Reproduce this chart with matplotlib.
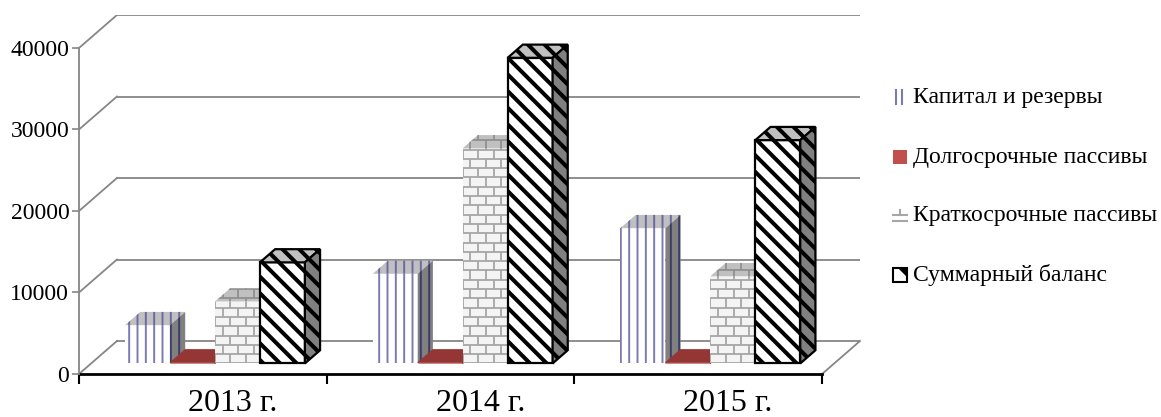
import matplotlib.pyplot as plt
from matplotlib.patches import Polygon, Rectangle
from matplotlib.collections import LineCollection

# данные (тыс. руб.)
years = ['2013 г.', '2014 г.', '2015 г.']
series = ['Капитал и резервы', 'Долгосрочные пассивы',
          'Краткосрочные пассивы', 'Суммарный баланс']
kapital = [4700, 11000, 16600]
dolgo = [100, 100, 100]
kratko = [7600, 26400, 10700]
summa = [12400, 37500, 27400]
yticks = [0, 10000, 20000, 30000, 40000]

plt.rcParams['font.family'] = ['Liberation Serif', 'DejaVu Serif']

# псевдо-3D геометрия
DX = 0.1532      # глубина по x (в долях категории)
DY = 4049        # глубина по y (в единицах значений)
D0, D1 = 0.32, 0.72
GAP = 0.137
W = 0.1815
GRID = '#868686'

W_PX, H_PX = 1161, 417
fig = plt.figure(figsize=(W_PX / 100, H_PX / 100), dpi=100)
ax = fig.add_axes([79 / W_PX, 1 - 374 / H_PX, 781 / W_PX, 359 / H_PX])
ax.set_xlim(0, 3 + DX)
ax.set_ylim(0, 40000 + DY)
for s in ['top', 'right', 'bottom']:
    ax.spines[s].set_visible(False)
ax.spines['left'].set_bounds(0, 40000)
ax.spines['left'].set_color(GRID)
ax.spines['left'].set_linewidth(1.3)
ax.set_yticks(yticks)
ax.set_yticklabels([str(v) for v in yticks], fontsize=17)
ax.tick_params(axis='y', length=5, width=1.2, color=GRID, pad=2)
ax.set_xticks([0, 1, 2, 3])
ax.set_xticklabels([])
ax.tick_params(axis='x', which='major', length=7, width=1.5, color='black')
ax.set_xticks([i + 0.62 for i in range(3)], minor=True)
ax.set_xticklabels(years, minor=True, fontsize=23)
ax.tick_params(axis='x', which='minor', length=0, pad=10.5)

# задняя стенка и боковая стенка
for v in yticks:
    ax.plot([DX, 3 + DX], [v + DY, v + DY], color=GRID, lw=1.3, zorder=1)
    ax.plot([0, DX], [v, v + DY], color=GRID, lw=1.3, zorder=1)
ax.plot([3, 3 + DX], [0, DY], color=GRID, lw=1.3, zorder=1, clip_on=False)
ax.plot([0, 3], [0, 0], color='black', lw=2, zorder=2, clip_on=False)


def add_patch(p, hatch_lw=None):
    if hatch_lw is not None:
        if hasattr(p, 'set_hatch_linewidth'):
            p.set_hatch_linewidth(hatch_lw)
    ax.add_patch(p)
    return p


def make_poly(pts, fc, ec, lw, hatch, hatch_lw, z):
    with plt.rc_context({'hatch.linewidth': hatch_lw or 1.0}):
        p = Polygon(pts, closed=True, facecolor=fc, edgecolor=ec, lw=lw,
                    hatch=hatch, zorder=z, joinstyle='miter')
    return add_patch(p, hatch_lw)


def bricks(patch, x0, x1, y0, y1, color, z):
    rh = 1141
    bw = 0.0625
    segs = []
    y = y0
    k = 0
    while y < y1 + rh:
        segs.append([(x0 - bw, y), (x1 + bw, y)])
        off = (k % 2) * bw / 2
        x = x0 - bw + off
        while x < x1 + bw:
            segs.append([(x, y), (x, y + rh)])
            x += bw
        y += rh
        k += 1
    lc = LineCollection(segs, colors=color, linewidths=1.3, zorder=z)
    ax.add_collection(lc)
    lc.set_clip_path(patch)


def box(cat, j, h, style, z):
    xl = cat + GAP + j * W + D0 * DX
    xr = xl + W
    yb = D0 * DY
    yt = yb + h
    tx, ty = (D1 - D0) * DX, (D1 - D0) * DY
    front = [(xl, yb), (xr, yb), (xr, yt), (xl, yt)]
    top = [(xl, yt), (xr, yt), (xr + tx, yt + ty), (xl + tx, yt + ty)]
    side = [(xr, yb), (xr + tx, yb + ty), (xr + tx, yt + ty), (xr, yt)]
    if style == 'kap':
        make_poly(front, 'white', '#7b7bb2', 0, '||', 1.4, z)
        make_poly(top, '#c0c0c0', '#6a6aa4', 0, '||', 1.4, z)
        make_poly(side, '#808080', '#3c3c66', 0, '||', 1.4, z)
    elif style == 'dolg':
        make_poly(front, '#c0504d', '#c0504d', 0.5, None, None, z)
        make_poly(top, '#943634', '#943634', 0.5, None, None, z)
        make_poly(side, '#7a2b2a', '#7a2b2a', 0.5, None, None, z)
    elif style == 'krat':
        p = make_poly(front, '#f4f4f4', 'none', 0, None, None, z)
        bricks(p, xl, xr + tx, yb, yt + ty, '#a6a6a6', z + 0.1)
        p = make_poly(top, '#c0c0c0', 'none', 0, None, None, z + 0.2)
        bricks(p, xl, xr + tx, yb, yt + ty, '#909090', z + 0.3)
        p = make_poly(side, '#808080', 'none', 0, None, None, z + 0.2)
        bricks(p, xl, xr + tx, yb, yt + ty, '#606060', z + 0.3)
    else:
        make_poly(front, 'white', 'black', 1.6, '\\\\', 2.9, z)
        make_poly(top, '#c0c0c0', 'black', 1.6, '\\\\', 2.9, z)
        make_poly(side, '#808080', 'black', 1.6, '\\\\', 2.9, z)


styles = ['kap', 'dolg', 'krat', 'summ']
data = [kapital, dolgo, kratko, summa]
for i in range(3):
    for j in range(4):
        box(i, j, data[j][i], styles[j], 3 + j)


# легенда
def fx(x):
    return x / W_PX


def fy(y):
    return 1 - y / H_PX


leg_y = [97, 157, 216, 275]
# Капитал и резервы: две вертикальные черты
for xx in [896, 902]:
    fig.add_artist(plt.Line2D([fx(xx), fx(xx)], [fy(leg_y[0] - 7), fy(leg_y[0] + 7)],
                              color='#7b7bb2', lw=1.5, transform=fig.transFigure))
# Долгосрочные пассивы
fig.add_artist(Rectangle((fx(893), fy(leg_y[1] + 7)), 14 / W_PX, 14 / H_PX,
                         facecolor='#c0504d', edgecolor='none',
                         transform=fig.transFigure))
# Краткосрочные пассивы
for seg in [[(893, leg_y[2] - 1), (907, leg_y[2] - 1)],
            [(893, leg_y[2] + 5), (907, leg_y[2] + 5)],
            [(900, leg_y[2] - 6), (900, leg_y[2] - 1)]]:
    fig.add_artist(plt.Line2D([fx(seg[0][0]), fx(seg[1][0])],
                              [fy(seg[0][1]), fy(seg[1][1])],
                              color='#a6a6a6', lw=1.5, transform=fig.transFigure))
# Суммарный баланс
with plt.rc_context({'hatch.linewidth': 3.5}):
    r = Rectangle((fx(893), fy(leg_y[3] + 7)), 14 / W_PX, 14 / H_PX,
                  facecolor='white', edgecolor='black', lw=1.5, hatch='\\',
                  transform=fig.transFigure)
if hasattr(r, 'set_hatch_linewidth'):
    r.set_hatch_linewidth(3.5)
fig.add_artist(r)

for y, name in zip(leg_y, series):
    fig.text(fx(913), fy(y), name, fontsize=17, va='center', ha='left')

fig.savefig('out.png', dpi=100)
